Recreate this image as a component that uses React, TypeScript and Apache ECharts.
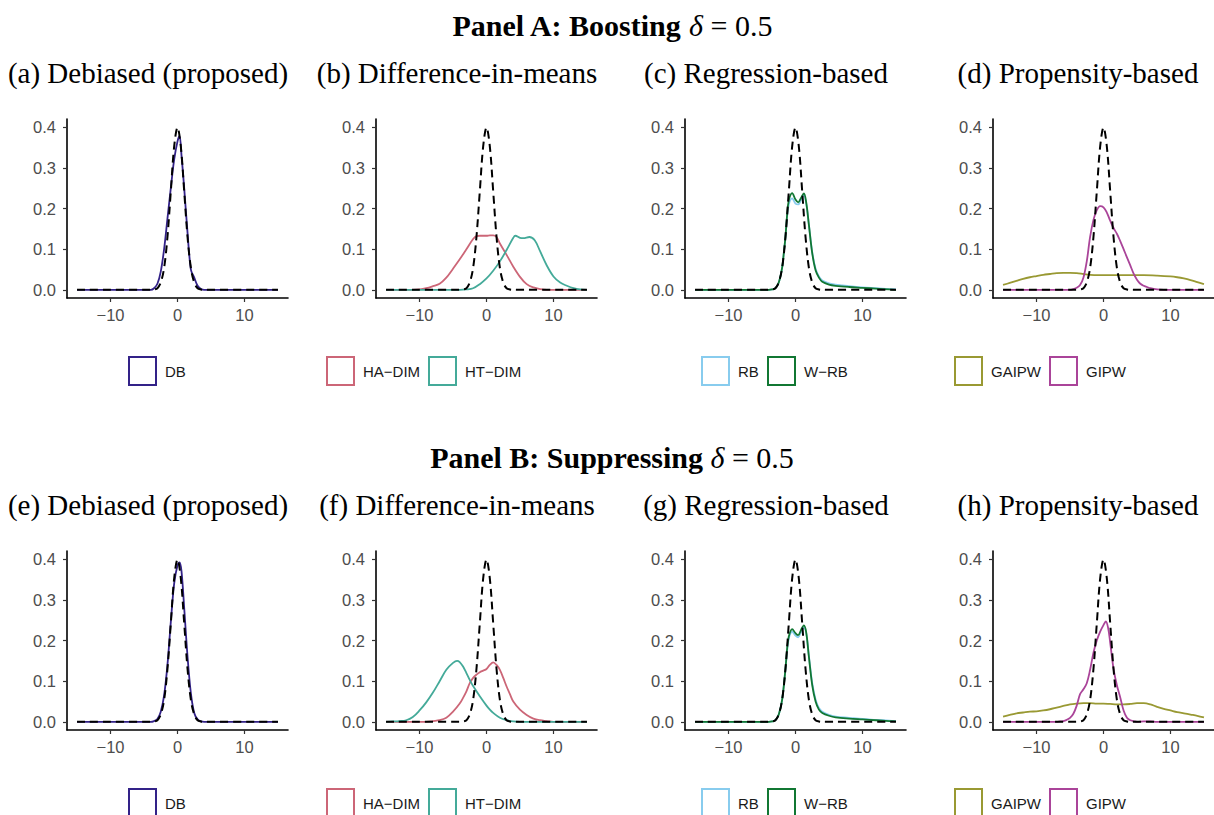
import React, { useEffect, useRef } from "react";
import * as echarts from "echarts";

// ---------- data ----------
const xTicks = [-10, 0, 10];
const yTicks = [0, 0.1, 0.2, 0.3, 0.4];

const panelTitles = [
  "(a) Debiased (proposed)", "(b) Difference-in-means", "(c) Regression-based", "(d) Propensity-based",
  "(e) Debiased (proposed)", "(f) Difference-in-means", "(g) Regression-based", "(h) Propensity-based",
];
const sectionTitles = [
  { bold: "Panel A: Boosting ", delta: "δ", rest: " = 0.5" },
  { bold: "Panel B: Suppressing ", delta: "δ", rest: " = 0.5" },
];

const colors: Record<string, string> = {
  DB: "#332288", "HA−DIM": "#CC6677", "HT−DIM": "#44AA99", RB: "#88CCEE",
  "W−RB": "#117733", GAIPW: "#999933", GIPW: "#AA4499",
};

// reference N(0,1) density (dashed)
const refCurve = [[-15, 0], [-4, 0], [-3.5, 0.001], [-3, 0.004], [-2.5, 0.018], [-2, 0.054], [-1.5, 0.13], [-1, 0.242], [-0.5, 0.352], [0, 0.399], [0.5, 0.352], [1, 0.242], [1.5, 0.13], [2, 0.054], [2.5, 0.018], [3, 0.004], [3.5, 0.001], [4, 0], [15, 0]];

// Panel A (boosting)
const dbA = [[-15, 0], [-4, 0], [-3.5, 0.004], [-3, 0.015], [-2.5, 0.045], [-2, 0.1], [-1.5, 0.175], [-1, 0.25], [-0.5, 0.32], [0, 0.365], [0.3, 0.378], [0.6, 0.33], [1, 0.25], [1.5, 0.14], [2, 0.05], [2.5, 0.03], [3, 0.01], [3.5, 0.002], [4, 0], [15, 0]];
const haDimA = [[-15, 0], [-11, 0], [-10, 0.001], [-9, 0.004], [-8, 0.009], [-7, 0.015], [-6, 0.03], [-5, 0.052], [-4, 0.075], [-3, 0.1], [-2, 0.125], [-1.5, 0.132], [-1, 0.133], [0, 0.133], [0.5, 0.134], [1, 0.134], [1.5, 0.13], [2, 0.114], [3, 0.086], [4, 0.057], [5, 0.032], [6, 0.014], [7, 0.006], [8, 0.002], [9, 0], [15, 0]];
const htDimA = [[-15, 0], [-4, 0], [-3, 0.001], [-2, 0.004], [-1, 0.014], [0, 0.028], [1, 0.047], [2, 0.07], [3, 0.098], [4, 0.128], [4.3, 0.133], [5, 0.128], [5.5, 0.127], [6.4, 0.13], [7.2, 0.122], [8, 0.095], [9, 0.06], [10, 0.033], [11, 0.018], [12, 0.01], [13, 0.004], [14, 0.001], [15, 0]];
const rbA = [[-15, 0], [-4, 0], [-3.5, 0.001], [-3, 0.004], [-2.5, 0.018], [-2, 0.054], [-1.75, 0.09], [-1.5, 0.13], [-1.25, 0.18], [-1, 0.21], [-0.5, 0.225], [0, 0.212], [0.4, 0.21], [0.8, 0.22], [1.25, 0.232], [1.6, 0.212], [2, 0.16], [2.5, 0.092], [3, 0.052], [3.5, 0.033], [4, 0.023], [5, 0.016], [6, 0.013], [7, 0.011], [8, 0.009], [10, 0.006], [12, 0.004], [14, 0.002], [15, 0.001]];
const wrbA = [[-15, 0], [-4, 0], [-3.5, 0.001], [-3, 0.004], [-2.5, 0.018], [-2, 0.054], [-1.75, 0.09], [-1.5, 0.13], [-1.25, 0.185], [-1, 0.22], [-0.5, 0.238], [0, 0.222], [0.4, 0.215], [0.8, 0.225], [1.25, 0.237], [1.6, 0.215], [2, 0.16], [2.5, 0.09], [3, 0.048], [3.5, 0.03], [4, 0.02], [5, 0.013], [6, 0.01], [8, 0.007], [10, 0.005], [12, 0.003], [14, 0.001], [15, 0]];
const gaipwA = [[-15, 0.012], [-14, 0.017], [-13, 0.022], [-12, 0.027], [-11, 0.031], [-10, 0.034], [-9, 0.037], [-8, 0.039], [-7, 0.041], [-6, 0.042], [-5, 0.042], [-4, 0.041], [-3, 0.039], [-2, 0.037], [-1, 0.036], [0, 0.036], [2, 0.036], [4, 0.036], [6, 0.036], [8, 0.035], [10, 0.033], [11, 0.031], [12, 0.028], [13, 0.024], [14, 0.019], [15, 0.014]];
const gipwA = [[-15, 0], [-5, 0], [-4.5, 0.002], [-4, 0.005], [-3.5, 0.012], [-3, 0.03], [-2.5, 0.07], [-2, 0.13], [-1.5, 0.172], [-1, 0.196], [-0.5, 0.206], [0, 0.203], [0.5, 0.19], [1, 0.17], [1.5, 0.152], [2, 0.138], [2.5, 0.12], [3, 0.1], [3.5, 0.08], [4, 0.06], [4.5, 0.04], [5, 0.025], [5.5, 0.015], [6, 0.01], [6.5, 0.007], [7, 0.004], [8, 0.001], [9, 0], [15, 0]];

// Panel B (suppressing)
const dbB = [[-15, 0], [-4, 0], [-3.5, 0.002], [-3, 0.007], [-2.5, 0.025], [-2, 0.065], [-1.5, 0.14], [-1, 0.245], [-0.5, 0.34], [0, 0.385], [0.3, 0.392], [0.6, 0.37], [1, 0.28], [1.5, 0.16], [2, 0.07], [2.5, 0.022], [3, 0.006], [3.5, 0.001], [4, 0], [15, 0]];
const haDimB = [[-15, 0], [-9, 0], [-8, 0.002], [-7, 0.004], [-6, 0.01], [-5, 0.025], [-4, 0.045], [-3.5, 0.059], [-3, 0.075], [-2.5, 0.095], [-2, 0.108], [-1.5, 0.116], [-1, 0.122], [-0.5, 0.126], [0, 0.13], [0.5, 0.14], [1, 0.146], [1.5, 0.14], [2, 0.128], [2.5, 0.108], [3, 0.087], [3.5, 0.068], [4, 0.05], [5, 0.03], [6, 0.017], [7, 0.008], [8, 0.004], [9, 0.002], [10, 0], [15, 0]];
const htDimB = [[-15, 0], [-14, 0.001], [-13, 0.002], [-12, 0.004], [-11, 0.012], [-10, 0.028], [-9, 0.048], [-8, 0.072], [-7, 0.1], [-6, 0.128], [-5, 0.145], [-4.4, 0.15], [-4, 0.147], [-3.5, 0.136], [-3, 0.12], [-2.5, 0.103], [-2, 0.088], [-1, 0.063], [0, 0.04], [0.5, 0.03], [1, 0.022], [2, 0.01], [3, 0.004], [4, 0.001], [5, 0], [15, 0]];
const rbB = [[-15, 0], [-4, 0], [-3.5, 0.001], [-3, 0.004], [-2.5, 0.018], [-2, 0.054], [-1.5, 0.13], [-1.25, 0.175], [-1, 0.205], [-0.5, 0.222], [0, 0.212], [0.4, 0.208], [0.8, 0.22], [1.25, 0.232], [1.6, 0.218], [2, 0.162], [2.5, 0.095], [3, 0.055], [3.5, 0.034], [4, 0.025], [5, 0.017], [6, 0.013], [8, 0.01], [10, 0.007], [12, 0.005], [14, 0.003], [15, 0.002]];
const wrbB = [[-15, 0], [-4, 0], [-3.5, 0.001], [-3, 0.004], [-2.5, 0.018], [-2, 0.054], [-1.5, 0.13], [-1.25, 0.18], [-1, 0.21], [-0.5, 0.228], [0, 0.218], [0.4, 0.213], [0.8, 0.225], [1.25, 0.237], [1.6, 0.22], [2, 0.16], [2.5, 0.09], [3, 0.05], [3.5, 0.03], [4, 0.022], [5, 0.015], [6, 0.011], [8, 0.008], [10, 0.006], [12, 0.004], [14, 0.002], [15, 0.001]];
const gaipwB = [[-15, 0.013], [-14, 0.017], [-13, 0.021], [-12, 0.023], [-11, 0.025], [-10, 0.026], [-9, 0.028], [-8, 0.031], [-7, 0.035], [-6, 0.039], [-5, 0.043], [-4, 0.045], [-3, 0.046], [-2, 0.046], [-1, 0.045], [0, 0.045], [1, 0.044], [2, 0.043], [3, 0.043], [4, 0.044], [5, 0.046], [6, 0.046], [7, 0.043], [8, 0.037], [9, 0.032], [10, 0.028], [11, 0.024], [12, 0.021], [13, 0.018], [14, 0.015], [15, 0.011]];
const gipwB = [[-15, 0], [-7, 0], [-6.5, 0.001], [-6, 0.002], [-5.5, 0.005], [-5, 0.01], [-4.5, 0.02], [-4, 0.04], [-3.5, 0.068], [-3, 0.08], [-2.5, 0.095], [-2, 0.128], [-1.5, 0.17], [-1, 0.2], [-0.5, 0.222], [0, 0.238], [0.35, 0.247], [0.7, 0.23], [1, 0.195], [1.5, 0.13], [2, 0.09], [2.5, 0.06], [3, 0.028], [3.5, 0.01], [4, 0.004], [4.5, 0.002], [5, 0], [6, 0.001], [7, 0.001], [8, 0], [15, 0]];

const panelSeries: { name: string; data: number[][] }[][] = [
  [{ name: "DB", data: dbA }],
  [{ name: "HA−DIM", data: haDimA }, { name: "HT−DIM", data: htDimA }],
  [{ name: "RB", data: rbA }, { name: "W−RB", data: wrbA }],
  [{ name: "GAIPW", data: gaipwA }, { name: "GIPW", data: gipwA }],
  [{ name: "DB", data: dbB }],
  [{ name: "HA−DIM", data: haDimB }, { name: "HT−DIM", data: htDimB }],
  [{ name: "RB", data: rbB }, { name: "W−RB", data: wrbB }],
  [{ name: "GAIPW", data: gaipwB }, { name: "GIPW", data: gipwB }],
];

// ---------- layout ----------
const COL_LEFT = [67, 376, 685, 993];
const ROW_TOP = [119, 551];
const GRID_W = 221;
const GRID_H = 179;
const TITLE_CX = [148, 457, 766, 1078];
const TITLE_Y = [73, 505];
const SECTION_Y = [25, 457];
const LEGEND_BOX_X = [[129], [327, 429], [702, 768], [955, 1050]];
const LEGEND_Y = [357, 789];

const SERIF = "'Liberation Serif', 'Times New Roman', serif";
const SANS = "'Liberation Sans', Arial, Helvetica, sans-serif";

function buildOption() {
  const grid: any[] = [];
  const xAxis: any[] = [];
  const yAxis: any[] = [];
  const series: any[] = [];
  const graphic: any[] = [];

  for (let p = 0; p < 8; p++) {
    const row = Math.floor(p / 4);
    const col = p % 4;
    grid.push({ left: COL_LEFT[col], top: ROW_TOP[row], width: GRID_W, height: GRID_H, containLabel: false });
    xAxis.push({
      type: "value", gridIndex: p, min: -16.5, max: 16.5,
      splitLine: { show: false },
      axisLine: { onZero: false, lineStyle: { color: "#000", width: 1.6 } },
      axisTick: { customValues: xTicks, length: 4, lineStyle: { color: "#333", width: 1.2 } },
      axisLabel: {
        customValues: xTicks, margin: 8, color: "#4D4D4D", fontSize: 16.5, fontFamily: SANS,
        formatter: (v: number) => (v < 0 ? "−" + Math.abs(v) : String(v)),
      },
    });
    yAxis.push({
      type: "value", gridIndex: p, min: -0.02, max: 0.42,
      splitLine: { show: false },
      axisLine: { onZero: false, lineStyle: { color: "#000", width: 1.6 } },
      axisTick: { customValues: yTicks, length: 4, lineStyle: { color: "#333", width: 1.2 } },
      axisLabel: {
        customValues: yTicks, margin: 11, color: "#4D4D4D", fontSize: 16.5, fontFamily: SANS,
        formatter: (v: number) => v.toFixed(1),
      },
    });
    panelSeries[p].forEach((s) => {
      series.push({
        type: "line", name: s.name, xAxisIndex: p, yAxisIndex: p, data: s.data,
        showSymbol: false, smooth: 0.35, z: 2,
        lineStyle: { color: colors[s.name], width: 1.8 },
      });
    });
    series.push({
      type: "line", name: "N(0,1)", xAxisIndex: p, yAxisIndex: p, data: refCurve,
      showSymbol: false, smooth: 0.35, z: 3,
      lineStyle: { color: "#000", width: 2, type: [8, 5] },
    });

    // panel title
    graphic.push({
      type: "text", x: TITLE_CX[col], y: TITLE_Y[row],
      style: { text: panelTitles[p], fontSize: 29, fontFamily: SERIF, fill: "#000", align: "center", verticalAlign: "middle" },
    });
    // legend
    panelSeries[p].forEach((s, i) => {
      const bx = LEGEND_BOX_X[col][i];
      const by = LEGEND_Y[row];
      graphic.push({
        type: "rect", shape: { x: bx, y: by, width: 27, height: 28 },
        style: { fill: "#fff", stroke: colors[s.name], lineWidth: 2 },
      });
      graphic.push({
        type: "text", x: bx + 36, y: by + 14,
        style: { text: s.name, fontSize: 15, fontFamily: SANS, fill: "#1a1a1a", align: "left", verticalAlign: "middle" },
      });
    });
  }

  sectionTitles.forEach((t, r) => {
    graphic.push({
      type: "text", x: 612, y: SECTION_Y[r],
      style: {
        text: `{b|${t.bold}}{i|${t.delta}}{r|${t.rest}}`,
        align: "center", verticalAlign: "middle",
        rich: {
          b: { fontSize: 30, fontWeight: "bold", fontFamily: SERIF, fill: "#000" },
          i: { fontSize: 30, fontStyle: "italic", fontFamily: SERIF, fill: "#000" },
          r: { fontSize: 30, fontFamily: SERIF, fill: "#000" },
        },
      },
    });
  });

  return {
    animation: false,
    backgroundColor: "#fff",
    grid, xAxis, yAxis, series, graphic,
  };
}

export default function App() {
  const ref = useRef<HTMLDivElement>(null);
  useEffect(() => {
    if (!ref.current) return;
    const chart = echarts.init(ref.current, undefined, { renderer: "svg" });
    chart.setOption(buildOption() as any);
    return () => chart.dispose();
  }, []);
  return (
    <div
      ref={ref}
      style={{ position: "fixed", left: 0, top: 0, width: 1214, height: 815, background: "#fff" }}
    />
  );
}
